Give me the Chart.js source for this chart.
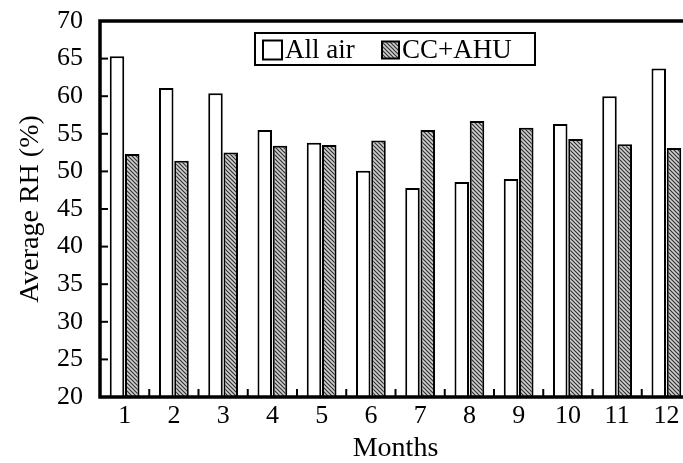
<!DOCTYPE html>
<html>
<head>
<meta charset="utf-8">
<script src="https://cdn.jsdelivr.net/npm/chart.js@4.4.1/dist/chart.umd.min.js"></script>
<style>
    html, body { margin: 0; padding: 0; background: #fff; overflow: hidden; }
    #wrap { width: 692px; height: 463px; position: relative; }
</style>
</head>
<body>
<div id="wrap"><canvas id="rhChart"></canvas></div>
<script>
// ============================================
// DATA
// ============================================
const months = ['1', '2', '3', '4', '5', '6', '7', '8', '9', '10', '11', '12'];
const allAir = [65.3, 61.1, 60.4, 55.5, 53.8, 50.1, 47.8, 48.6, 49.0, 56.3, 60.0, 63.7];
const ccAhu = [52.3, 51.4, 52.5, 53.4, 53.5, 54.1, 55.5, 56.7, 55.8, 54.3, 53.6, 53.1];
const yMin = 20;
const yMax = 70;
const yStep = 5;

const SERIF = "'Liberation Serif', 'Times New Roman', serif";

// diagonal hatch fill for the CC+AHU bars
function makeHatch() {
    const c = document.createElement('canvas');
    c.width = 4;
    c.height = 4;
    const g = c.getContext('2d');
    g.fillStyle = '#d0d0d0';
    g.fillRect(0, 0, 4, 4);
    g.strokeStyle = '#303030';
    g.lineWidth = 1.2;
    g.beginPath();
    g.moveTo(-1, -1); g.lineTo(5, 5);
    g.moveTo(-1, 3); g.lineTo(1, 5);
    g.moveTo(3, -1); g.lineTo(5, 1);
    g.stroke();
    return g.createPattern(c, 'repeat');
}
const hatch = makeHatch();

// frame + inward tick marks
const framePlugin = {
    id: 'frame',
    afterDatasetsDraw(chart) {
        const { ctx, chartArea: a, scales } = chart;
        ctx.save();
        ctx.strokeStyle = '#000';

        // y ticks pointing into the plot
        ctx.lineWidth = 2;
        scales.y.ticks.forEach(t => {
            if (t.value <= yMin || t.value >= yMax) return;
            const y = scales.y.getPixelForValue(t.value);
            ctx.beginPath();
            ctx.moveTo(a.left, y);
            ctx.lineTo(a.left + 8, y);
            ctx.stroke();
        });

        // x ticks between month groups
        for (let i = 0; i < months.length; i++) {
            const x = (scales.x.getPixelForValue(i) + scales.x.getPixelForValue(i + 1)) / 2;
            ctx.beginPath();
            ctx.moveTo(x, a.bottom);
            ctx.lineTo(x, a.bottom - 8);
            ctx.stroke();
        }

        ctx.lineWidth = 3.5;
        ctx.strokeRect(a.left, a.top, a.right - a.left, a.bottom - a.top);
        ctx.restore();
    }
};

// boxed legend inside the plot
const boxLegendPlugin = {
    id: 'boxLegend',
    afterDraw(chart) {
        const { ctx } = chart;
        const ds = chart.data.datasets;
        ctx.save();
        ctx.strokeStyle = '#000';
        ctx.lineWidth = 2;
        ctx.fillStyle = '#fff';
        ctx.fillRect(255, 33, 280, 32);
        ctx.strokeRect(255, 33, 280, 32);

        ctx.font = '27px ' + SERIF;
        ctx.textBaseline = 'middle';
        const items = [
            { x: 263, size: 19, text: ds[0].label, fill: ds[0].backgroundColor },
            { x: 382, size: 17, text: ds[1].label, fill: ds[1].backgroundColor }
        ];
        items.forEach(it => {
            const top = 50 - it.size / 2;
            ctx.fillStyle = it.fill;
            ctx.fillRect(it.x, top, it.size, it.size);
            ctx.lineWidth = 2;
            ctx.strokeRect(it.x, top, it.size, it.size);
            ctx.fillStyle = '#000';
            ctx.fillText(it.text, it.x + it.size + 3, 51);
        });
        ctx.restore();
    }
};

const rhChart = new Chart(document.getElementById('rhChart'), {
    type: 'bar',
    data: {
        labels: months,
        datasets: [{
            label: 'All air',
            data: allAir,
            backgroundColor: '#ffffff',
            borderColor: '#000',
            borderWidth: 2,
            borderSkipped: 'start',
            categoryPercentage: 0.62,
            barPercentage: 0.95
        }, {
            label: 'CC+AHU',
            data: ccAhu,
            backgroundColor: hatch,
            borderColor: '#000',
            borderWidth: 2,
            borderSkipped: 'start',
            categoryPercentage: 0.62,
            barPercentage: 0.95
        }]
    },
    options: {
        responsive: true,
        maintainAspectRatio: false,
        animation: false,
        devicePixelRatio: 1,
        layout: { padding: { top: 21, right: 1, left: 0, bottom: 0 } },
        plugins: {
            legend: { display: false },
            tooltip: { enabled: false }
        },
        scales: {
            x: {
                grid: { display: false, drawTicks: false },
                border: { display: false },
                ticks: {
                    color: '#000',
                    font: { family: SERIF, size: 26 },
                    padding: 4,
                    maxRotation: 0,
                    autoSkip: false
                },
                title: {
                    display: true,
                    text: 'Months',
                    color: '#000',
                    font: { family: SERIF, size: 28, lineHeight: 1 },
                    padding: { top: 0, bottom: 0 }
                },
                afterFit(scale) { scale.height = 66; }
            },
            y: {
                min: yMin,
                max: yMax,
                grid: { display: false, drawTicks: false },
                border: { display: false },
                ticks: {
                    stepSize: yStep,
                    color: '#000',
                    font: { family: SERIF, size: 26 },
                    padding: 17
                },
                title: {
                    display: true,
                    text: 'Average RH (%)',
                    color: '#000',
                    font: { family: SERIF, size: 28, lineHeight: 1.2 },
                    padding: { top: 14, bottom: 0 }
                },
                afterFit(scale) {
                    scale.width = 100;
                    scale.paddingTop = 0;
                    scale.paddingBottom = 0;
                }
            }
        }
    },
    plugins: [framePlugin, boxLegendPlugin]
});
</script>
</body>
</html>
